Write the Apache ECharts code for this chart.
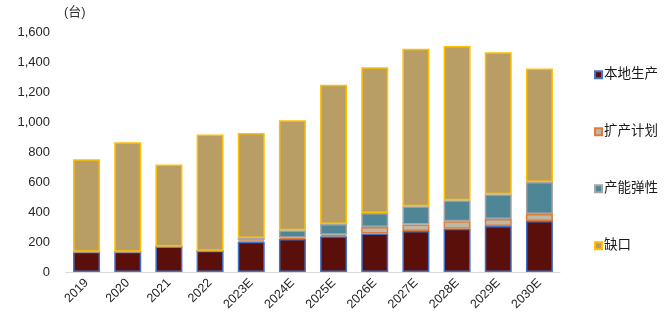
<!DOCTYPE html>
<html>
<head>
<meta charset="utf-8">
<script src="https://cdn.jsdelivr.net/npm/echarts@6/dist/echarts.min.js"></script>
<style>
  html, body { margin: 0; padding: 0; background: #fff; }
  #chart { width: 666px; height: 325px; }
</style>
</head>
<body>
<div id="chart"></div>
<script>
// Years on the category axis
const categories = ['2019', '2020', '2021', '2022', '2023E', '2024E', '2025E', '2026E', '2027E', '2028E', '2029E', '2030E'];

// Stacked components (units: 台)
const localProduction = [135, 135, 170, 142, 202, 220, 238, 256, 273, 289, 307, 340];
const expansionPlan   = [0, 0, 0, 0, 10, 8, 10, 44, 43, 49, 46, 47];
const capacityFlex    = [0, 0, 0, 0, 15, 50, 72, 93, 122, 140, 165, 213];
const shortfall       = [616, 730, 546, 774, 700, 733, 929, 972, 1051, 1029, 947, 756];

const seriesNames = ['本地生产', '扩产计划', '产能弹性', '缺口'];
const yTicks = { min: 0, max: 1600, interval: 200 };

const FONT = '"Liberation Sans", Arial, "Noto Sans CJK SC", sans-serif';

const styles = [
  { color: '#5A0F0B', borderColor: '#4472C4' },
  { color: '#BDB9A7', borderColor: '#E07B39' },
  { color: '#4F8696', borderColor: '#A5A5A5' },
  { color: '#B89E64', borderColor: '#FFC000' }
];
const dataSets = [localProduction, expansionPlan, capacityFlex, shortfall];

const chart = echarts.init(document.getElementById('chart'), null, { renderer: 'canvas' });

chart.setOption({
  animation: false,
  textStyle: { fontFamily: FONT },
  grid: { left: 66, right: 106, top: 32, bottom: 53, containLabel: false },
  legend: {
    orient: 'vertical',
    left: 589,
    top: 63,
    itemWidth: 7,
    itemHeight: 7,
    itemGap: 43.5,
    icon: 'rect',
    selectedMode: false,
    textStyle: { fontSize: 13.5, color: '#1a1a1a', fontFamily: FONT, padding: [0, 0, 0, -3] },
    data: seriesNames
  },
  graphic: [{
    type: 'text',
    left: 64,
    top: 6,
    style: { text: '(台)', fontSize: 13, fill: '#333', fontFamily: FONT }
  }],
  xAxis: {
    type: 'category',
    data: categories,
    axisLine: { show: true, lineStyle: { color: '#D9D9D9', width: 1 } },
    axisTick: { show: false },
    axisLabel: { rotate: 45, fontSize: 12.5, color: '#262626', fontFamily: FONT, margin: 9, interval: 0 }
  },
  yAxis: {
    type: 'value',
    min: yTicks.min,
    max: yTicks.max,
    interval: yTicks.interval,
    splitLine: { show: false },
    axisLine: { show: false },
    axisTick: { show: false },
    axisLabel: {
      fontSize: 13, color: '#262626', fontFamily: FONT, margin: 16,
      formatter: v => v.toLocaleString('en-US')
    }
  },
  series: seriesNames.map((name, i) => ({
    name,
    type: 'bar',
    stack: 'total',
    barWidth: 27,
    data: dataSets[i],
    itemStyle: { color: styles[i].color, borderColor: styles[i].borderColor, borderWidth: 1.5 }
  }))
});
</script>
</body>
</html>
